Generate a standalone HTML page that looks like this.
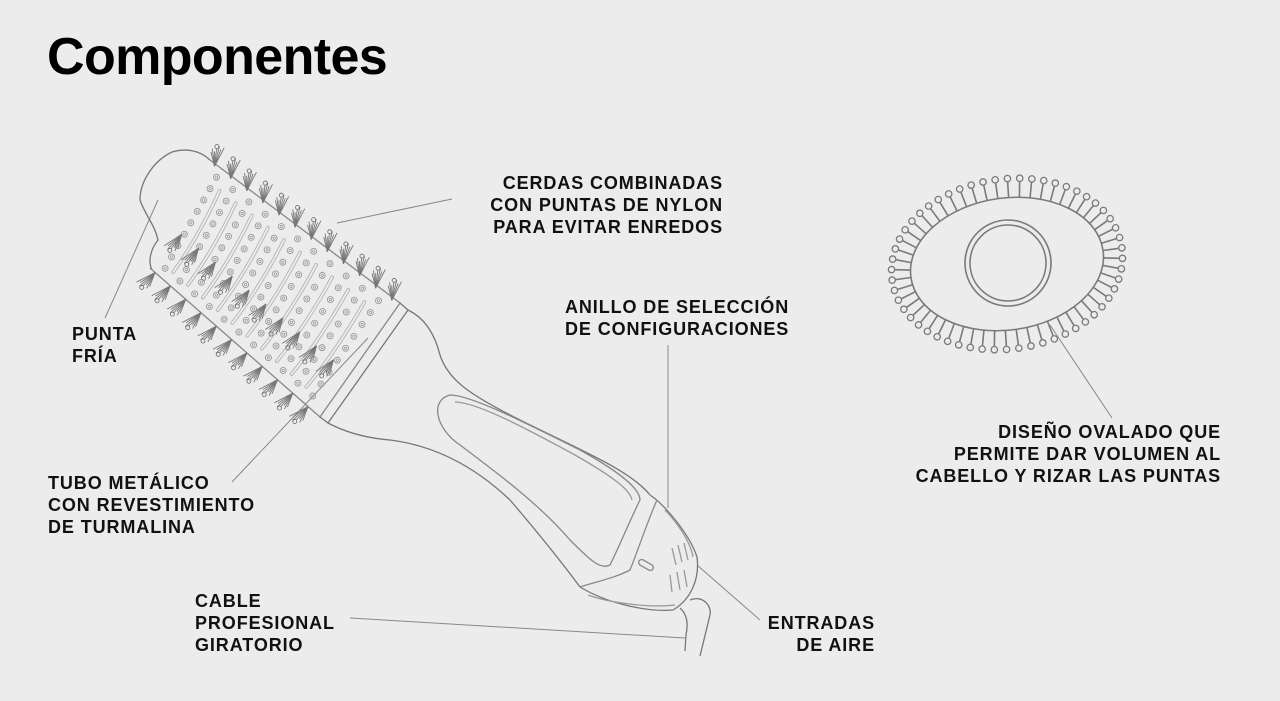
<!DOCTYPE html>
<html><head><meta charset="utf-8">
<style>
html,body{margin:0;padding:0;background:#ececec;}
body{width:1280px;height:701px;position:relative;overflow:hidden;font-family:"Liberation Sans",Arial,sans-serif;color:#111;}
.t{position:absolute;font-weight:bold;font-size:18px;line-height:22px;white-space:nowrap;letter-spacing:0.9px;}
.r{text-align:right;}
h1{position:absolute;left:47px;top:27px;margin:0;font-size:52px;font-weight:bold;letter-spacing:-0.6px;color:#000;line-height:60px;}
svg{position:absolute;left:0;top:0;}
</style></head><body>
<svg id="s" width="1280" height="701" viewBox="0 0 1280 701" fill="none" stroke="#777" stroke-width="1.3">
<g stroke="#888" stroke-width="1">
<line x1="105" y1="318" x2="158" y2="200"/>
<line x1="337" y1="223" x2="452" y2="199"/>
<line x1="232" y1="482" x2="368" y2="338"/>
<line x1="668" y1="345" x2="668" y2="508"/>
<line x1="697" y1="565" x2="760" y2="620"/>
<line x1="350" y1="618" x2="685" y2="638"/>
<line x1="1050" y1="325" x2="1112" y2="418"/>
</g>
<path d="M210,160 C200,150 185,148 172,152 C155,160 140,180 140,200 C145,215 155,225 158,240 C150,250 148,262 152,270" stroke="#777"/>
<path d="M210,160 L400,303 L320,417 L150,268" stroke="#888"/>
<path d="M400,303 L408,310 L328,423 L320,417" stroke="#777"/>
<path d="M408,310 C425,318 435,335 440,355 C448,380 470,395 520,420 C580,450 630,470 650,495" stroke="#777"/>
<path d="M328,423 C345,432 365,438 390,440 C430,445 470,462 510,500 C540,535 560,560 580,587" stroke="#777"/>
<path d="M450,395 C470,395 520,420 580,450 C625,475 640,490 640,500 C630,520 620,545 610,565 C600,570 590,560 570,540 C540,505 500,475 460,445 C435,428 430,400 450,395 Z" stroke="#888"/>
<path d="M455,402 C475,402 520,425 575,455 C615,478 630,490 632,500" stroke="#999"/>
<path d="M650,495 C665,505 690,535 697,557 C700,580 690,600 673,610 C650,612 610,605 580,587" stroke="#777"/>
<path d="M657,500 C648,520 640,545 630,570 C615,578 595,582 580,587" stroke="#888"/>
<path d="M665,510 C675,520 690,540 693,557" stroke="#999"/>
<path d="M588,595 C610,603 650,608 675,605" stroke="#999"/>
<rect x="643" y="557" width="6" height="16" rx="3" stroke="#888" transform="rotate(-60 646 565)"/>
<g stroke="#999"><line x1="672" y1="548" x2="676" y2="565"/><line x1="678" y1="545" x2="682" y2="562"/><line x1="684" y1="543" x2="688" y2="560"/><line x1="670" y1="575" x2="672" y2="592"/><line x1="677" y1="572" x2="680" y2="590"/><line x1="684" y1="570" x2="687" y2="587"/></g>
<path d="M690,600 C702,595 712,605 710,615 L700,656" stroke="#777"/>
<path d="M680,608 C688,615 688,625 686,635 L685,651" stroke="#777"/>
<g id="ov" stroke="#7a7a7a" stroke-width="1.6"></g>
<g id="br"></g>
</svg>
<h1>Componentes</h1>
<div class="t" style="left:72px;top:323px;">PUNTA<br>FRÍA</div>
<div class="t r" style="right:557px;top:172px;">CERDAS COMBINADAS<br>CON PUNTAS DE NYLON<br>PARA EVITAR ENREDOS</div>
<div class="t" style="left:565px;top:296px;">ANILLO DE SELECCIÓN<br>DE CONFIGURACIONES</div>
<div class="t" style="left:48px;top:472px;">TUBO METÁLICO<br>CON REVESTIMIENTO<br>DE TURMALINA</div>
<div class="t" style="left:195px;top:590px;">CABLE<br>PROFESIONAL<br>GIRATORIO</div>
<div class="t r" style="right:405px;top:612px;">ENTRADAS<br>DE AIRE</div>
<div class="t r" style="right:59px;top:421px;">DISEÑO OVALADO QUE<br>PERMITE DAR VOLUMEN AL<br>CABELLO Y RIZAR LAS PUNTAS</div>
<script>
var NS="http://www.w3.org/2000/svg";
function el(p,n,a){var e=document.createElementNS(NS,n);for(var k in a)e.setAttribute(k,a[k]);p.appendChild(e);return e;}
var ov=document.getElementById('ov');
var cx=1007,cy=264,rx=97,ry=66,rot=-8*Math.PI/180;
function pt(t,s){var x=rx*s*Math.cos(t),y=ry*s*Math.sin(t);return [cx+x*Math.cos(rot)-y*Math.sin(rot),cy+x*Math.sin(rot)+y*Math.cos(rot)];}
el(ov,'ellipse',{cx:cx,cy:cy,rx:rx,ry:ry,transform:'rotate(-8 '+cx+' '+cy+')'});
el(ov,'circle',{cx:1008,cy:263,r:43});
el(ov,'circle',{cx:1008,cy:263,r:38});
for(var i=0;i<56;i++){var t=i/56*2*Math.PI;var a=pt(t,1);
 var nx=Math.cos(t)/rx,ny=Math.sin(t)/ry;var L=Math.hypot(nx,ny);nx/=L;ny/=L;
 var gx=nx*Math.cos(rot)-ny*Math.sin(rot),gy=nx*Math.sin(rot)+ny*Math.cos(rot);
 var ex=a[0]+gx*16,ey=a[1]+gy*16;
 el(ov,'line',{x1:a[0],y1:a[1],x2:ex,y2:ey});
 el(ov,'circle',{cx:ex+gx*3,cy:ey+gy*3,r:3.2,'stroke-width':1.3});}
var br=document.getElementById('br');
var TL=[210,160],TR=[400,303],BR=[320,417],BL=[150,268];
function m(u,v){return [TL[0]*(1-u)*(1-v)+TR[0]*u*(1-v)+BR[0]*u*v+BL[0]*(1-u)*v, TL[1]*(1-u)*(1-v)+TR[1]*u*(1-v)+BR[1]*u*v+BL[1]*(1-u)*v];}
for(var r=0;r<9;r++){for(var c=0;c<11;c++){var u=0.06+c*0.086,v=0.08+r*0.105;var p=m(u,v);
 el(br,'circle',{cx:p[0],cy:p[1],r:3,stroke:'#999','stroke-width':0.9});
 el(br,'circle',{cx:p[0],cy:p[1],r:1.2,stroke:'#999','stroke-width':0.7});}}
for(var c=0;c<10;c++){var u=0.1+c*0.086;var a=m(u,0.15),b=m(u+0.02,0.55),d=m(u,0.9);
 el(br,'path',{d:'M'+a+' Q'+b+' '+d,stroke:'#aaa','stroke-width':3.5,'stroke-linecap':'round'});
 el(br,'path',{d:'M'+a+' Q'+b+' '+d,stroke:'#ececec','stroke-width':2,'stroke-linecap':'round'});}
function tuft(x,y,ang){for(var k=-3;k<=3;k++){var aa=ang+k*0.12;var L=18+(k%2)*3;
 el(br,'line',{x1:x,y1:y,x2:x+Math.cos(aa)*L,y2:y+Math.sin(aa)*L,stroke:'#777','stroke-width':0.9});}
 el(br,'circle',{cx:x+Math.cos(ang)*20,cy:y+Math.sin(ang)*20,r:2,stroke:'#777','stroke-width':0.9});}
for(var i=0;i<12;i++){var p=m(0.03+i*0.085,0.02);tuft(p[0],p[1],-1.45);}
for(var i=0;i<11;i++){var p=m(0.03+i*0.09,1.0);tuft(p[0],p[1],2.3);}
for(var i=0;i<10;i++){var p=m(0.05+i*0.095,0.62);tuft(p[0],p[1],2.2);}
</script>
</body></html>
